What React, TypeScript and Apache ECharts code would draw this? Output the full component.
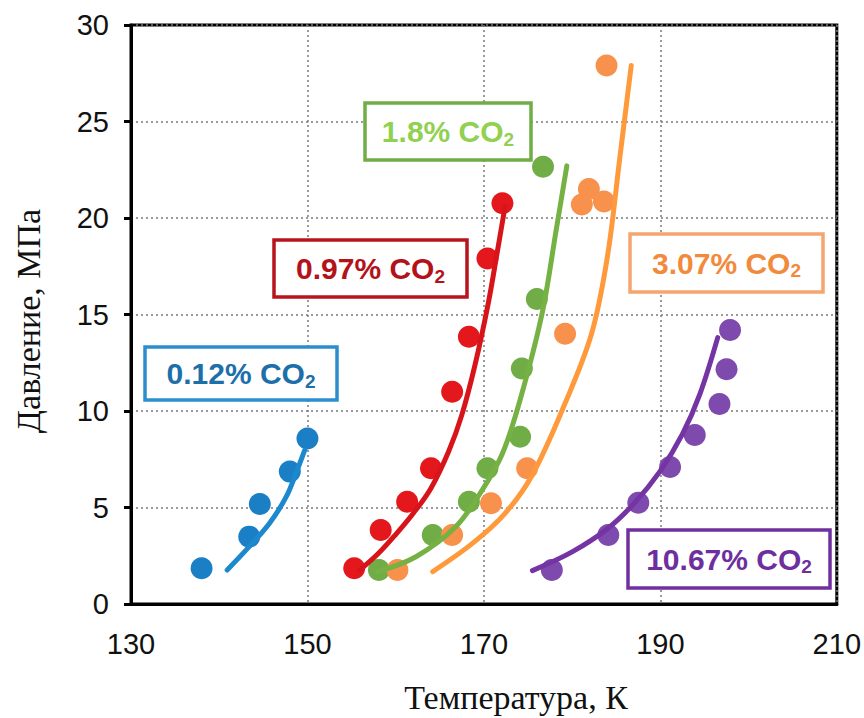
import React, { useEffect, useRef } from "react";
import * as echarts from "echarts";

// Measured points (temperature K, pressure MPa)
const blueT = [138.0, 143.4, 144.6, 148.0, 150.0];
const blueP = [1.85, 3.49, 5.18, 6.86, 8.58];
const blueFitT = [140.9, 143.4, 145.7, 147.6, 148.7, 149.7];
const blueFitP = [1.76, 2.97, 4.18, 5.56, 6.77, 7.98];

const redT = [155.3, 158.3, 161.3, 164.0, 166.4, 168.3, 170.4, 172.1];
const redP = [1.85, 3.83, 5.3, 7.03, 11.0, 13.85, 17.9, 20.76];
const redFitT = [155.9, 158.0, 160.0, 162.0, 164.0, 166.0, 167.5, 169.0, 170.5, 171.5, 172.4];
const redFitP = [1.75, 2.6, 3.6, 4.7, 6.0, 7.9, 9.8, 12.4, 15.6, 18.2, 20.6];

const greenT = [158.1, 164.2, 168.3, 170.4, 174.1, 174.3, 176.0, 176.7];
const greenP = [1.76, 3.58, 5.3, 7.03, 8.67, 12.2, 15.8, 22.66];
const greenFitT = [157.9, 162.3, 166.8, 169.8, 172.1, 174.1, 176.6, 178.2, 179.4];
const greenFitP = [1.66, 2.45, 4.0, 5.9, 7.8, 10.57, 15.06, 19.4, 22.7];

const orangeT = [160.2, 166.4, 170.8, 174.9, 179.2, 181.1, 181.9, 183.6, 183.9];
const orangeP = [1.76, 3.58, 5.22, 7.03, 14.0, 20.7, 21.5, 20.85, 27.9];
const orangeFitT = [164.2, 168.7, 172.4, 175.5, 179.2, 182.2, 184.0, 185.4, 186.7];
const orangeFitP = [1.68, 3.14, 4.7, 6.7, 10.4, 14.0, 18.0, 23.1, 27.9];

const purpleT = [177.7, 184.1, 187.5, 191.1, 193.9, 196.7, 197.5, 197.9];
const purpleP = [1.76, 3.58, 5.25, 7.1, 8.76, 10.36, 12.16, 14.2];
const purpleFitT = [175.5, 180.0, 184.0, 187.0, 190.0, 192.5, 194.5, 196.5];
const purpleFitP = [1.73, 2.7, 3.9, 5.2, 6.9, 8.8, 10.9, 13.8];

const labels = ["0.12%", "0.97%", "1.8%", "3.07%", "10.67%"];

const xTitle = "Температура, К";
const yTitle = "Давление, МПа";

const zip = (a: number[], b: number[]) => a.map((v, i) => [v, b[i]]);

export default function App() {
  const ref = useRef<HTMLDivElement>(null);
  useEffect(() => {
    if (!ref.current) return;
    const chart = echarts.init(ref.current, null, { renderer: "svg" });

    const groups = [
      { name: labels[0], pts: zip(blueT, blueP), fit: zip(blueFitT, blueFitP), pc: "#1b7fc6", lc: "#1c89cf", tc: "#1d6fa9", bc: "#2b8fcd", box: [145, 347, 192, 53] },
      { name: labels[1], pts: zip(redT, redP), fit: zip(redFitT, redFitP), pc: "#e3171c", lc: "#d8141b", tc: "#b3121a", bc: "#b8141c", box: [274, 240, 193, 57] },
      { name: labels[2], pts: zip(greenT, greenP), fit: zip(greenFitT, greenFitP), pc: "#70ad47", lc: "#75b143", tc: "#92d050", bc: "#70ad47", box: [365, 103, 166, 57] },
      { name: labels[3], pts: zip(orangeT, orangeP), fit: zip(orangeFitT, orangeFitP), pc: "#f8914c", lc: "#ff9a3c", tc: "#f28a3c", bc: "#f6a56e", box: [630, 234, 193, 58] },
      { name: labels[4], pts: zip(purpleT, purpleP), fit: zip(purpleFitT, purpleFitP), pc: "#7f4aad", lc: "#7434a3", tc: "#6f2e9e", bc: "#7030a0", box: [628, 530, 202, 58] },
    ];

    const series: any[] = [];
    groups.forEach((g) => {
      series.push({
        type: "scatter",
        name: g.name + " pts",
        data: g.pts,
        symbolSize: 22,
        itemStyle: { color: g.pc, opacity: 1 },
        z: 2,
      });
      series.push({
        type: "line",
        name: g.name + " fit",
        data: g.fit,
        smooth: 0.35,
        showSymbol: false,
        symbol: "none",
        lineStyle: { color: g.lc, width: 5, cap: "round" },
        z: 3,
      });
    });

    const graphics: any[] = [];
    groups.forEach((g) => {
      const [x, y, w, h] = g.box;
      graphics.push({
        type: "rect",
        shape: { x, y, width: w, height: h },
        style: { fill: "#fff", stroke: g.bc, lineWidth: 3.5 },
        z: 10,
      });
      graphics.push({
        type: "text",
        x: x + w / 2,
        y: y + h / 2,
        z: 11,
        style: {
          text: "{n|" + g.name + " CO}{s|2}",
          align: "center",
          verticalAlign: "middle",
          rich: {
            n: { fontSize: 30, fontWeight: "bold", fill: g.tc, fontFamily: "Liberation Sans, Arial, sans-serif", lineHeight: 34 },
            s: { fontSize: 19, fontWeight: "bold", fill: g.tc, fontFamily: "Liberation Sans, Arial, sans-serif", lineHeight: 12, verticalAlign: "bottom" },
          },
        },
      });
    });
    graphics.push({
      type: "text",
      x: 516,
      y: 697,
      style: { text: xTitle, fontSize: 34, fontFamily: "Liberation Serif, Times New Roman, serif", fill: "#111", align: "center", verticalAlign: "middle" },
    });
    graphics.push({
      type: "text",
      x: 28,
      y: 321,
      rotation: Math.PI / 2,
      style: { text: yTitle, fontSize: 34, fontFamily: "Liberation Serif, Times New Roman, serif", fill: "#111", align: "center", verticalAlign: "middle" },
    });

    chart.setOption({
      animation: false,
      backgroundColor: "#fff",
      grid: { left: 131, right: 25, top: 25, bottom: 114, show: true, borderColor: "#000", borderWidth: 3, backgroundColor: "transparent" },
      xAxis: {
        type: "value",
        min: 130,
        max: 210,
        interval: 20,
        axisLine: { lineStyle: { color: "#000", width: 3 } },
        axisTick: { show: false },
        axisLabel: { color: "#111", fontSize: 29, fontFamily: "Liberation Sans, Arial, sans-serif", margin: 25 },
        splitLine: { show: true, lineStyle: { color: "#7a7a7a", width: 1.5, type: [2, 3] } },
      },
      yAxis: {
        type: "value",
        min: 0,
        max: 30,
        interval: 5,
        axisLine: { show: true, lineStyle: { color: "#000", width: 3 } },
        axisTick: { show: true, length: 7, lineStyle: { color: "#000", width: 3 } },
        axisLabel: { color: "#111", fontSize: 29, fontFamily: "Liberation Sans, Arial, sans-serif", margin: 22 },
        splitLine: { show: true, lineStyle: { color: "#7a7a7a", width: 1.5, type: [2, 3] } },
      },
      series,
      graphic: graphics,
    });
    return () => chart.dispose();
  }, []);
  return <div ref={ref} style={{ position: "fixed", left: 0, top: 0, width: 864, height: 718 }} />;
}
